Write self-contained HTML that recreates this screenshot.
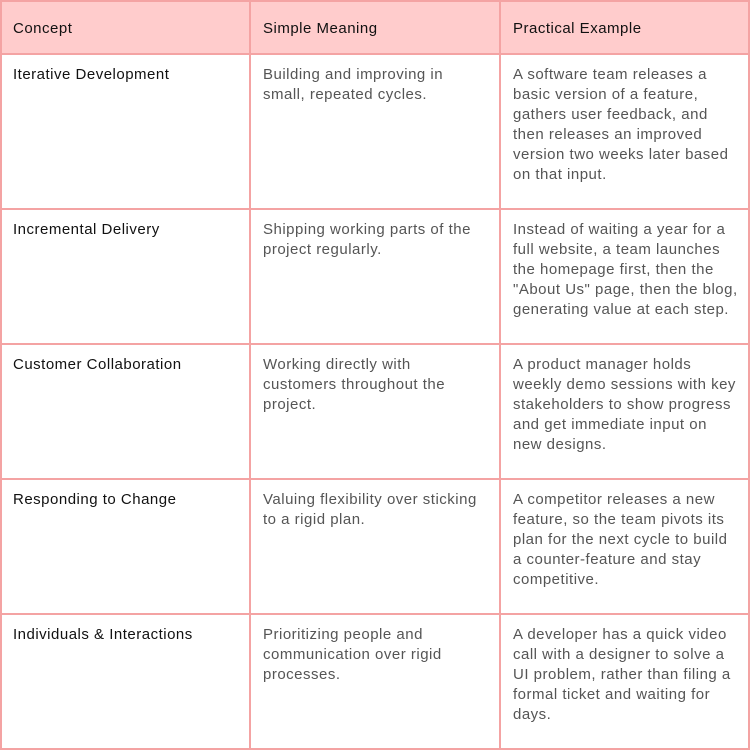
<!DOCTYPE html>
<html><head><style>
html,body{margin:0;padding:0;background:#fff;}
body{width:750px;height:750px;position:relative;overflow:hidden;font-family:"Liberation Sans",sans-serif;}
.c{position:absolute;box-sizing:border-box;font-size:15px;line-height:20px;color:#555;padding:11px 0 0 13px;letter-spacing:0.5px;white-space:nowrap;}
.h{background:#ffcccc;color:#111;}
.k{color:#111;}
.vl{position:absolute;top:0;width:2px;height:750px;background:#f4a3a3;}
.hl{position:absolute;left:0;height:2px;width:750px;background:#f4a3a3;}
</style></head><body>
<div class="c h" style="left:0;top:0;width:750px;height:54px;padding:0"></div>
<div class="c h" style="left:0;top:8px;width:250px;height:40px;background:none">Concept</div>
<div class="c h" style="left:250px;top:8px;width:250px;height:40px;background:none">Simple Meaning</div>
<div class="c h" style="left:500px;top:8px;width:250px;height:40px;background:none">Practical Example</div>

<div class="c k" style="left:0;top:54px;">Iterative Development</div>
<div class="c" style="left:250px;top:54px;">Building and improving in<br>small, repeated cycles.</div>
<div class="c" style="left:500px;top:54px;">A software team releases a<br>basic version of a feature,<br>gathers user feedback, and<br>then releases an improved<br>version two weeks later based<br>on that input.</div>

<div class="c k" style="left:0;top:209px;">Incremental Delivery</div>
<div class="c" style="left:250px;top:209px;">Shipping working parts of the<br>project regularly.</div>
<div class="c" style="left:500px;top:209px;">Instead of waiting a year for a<br>full website, a team launches<br>the homepage first, then the<br>"About Us" page, then the blog,<br>generating value at each step.</div>

<div class="c k" style="left:0;top:344px;">Customer Collaboration</div>
<div class="c" style="left:250px;top:344px;">Working directly with<br>customers throughout the<br>project.</div>
<div class="c" style="left:500px;top:344px;">A product manager holds<br>weekly demo sessions with key<br>stakeholders to show progress<br>and get immediate input on<br>new designs.</div>

<div class="c k" style="left:0;top:479px;">Responding to Change</div>
<div class="c" style="left:250px;top:479px;">Valuing flexibility over sticking<br>to a rigid plan.</div>
<div class="c" style="left:500px;top:479px;">A competitor releases a new<br>feature, so the team pivots its<br>plan for the next cycle to build<br>a counter-feature and stay<br>competitive.</div>

<div class="c k" style="left:0;top:614px;">Individuals &amp; Interactions</div>
<div class="c" style="left:250px;top:614px;">Prioritizing people and<br>communication over rigid<br>processes.</div>
<div class="c" style="left:500px;top:614px;">A developer has a quick video<br>call with a designer to solve a<br>UI problem, rather than filing a<br>formal ticket and waiting for<br>days.</div>

<div class="vl" style="left:0"></div>
<div class="vl" style="left:249px"></div>
<div class="vl" style="left:499px"></div>
<div class="vl" style="left:748px"></div>
<div class="hl" style="top:0"></div>
<div class="hl" style="top:53px"></div>
<div class="hl" style="top:208px"></div>
<div class="hl" style="top:343px"></div>
<div class="hl" style="top:478px"></div>
<div class="hl" style="top:613px"></div>
<div class="hl" style="top:748px"></div>
</body></html>
